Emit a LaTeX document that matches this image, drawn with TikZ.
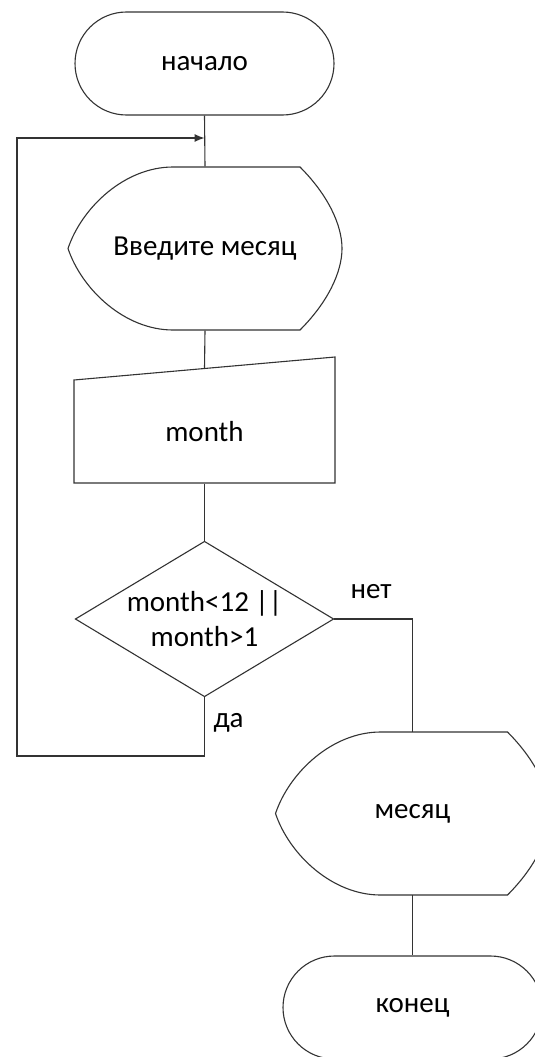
\documentclass[tikz,border=0pt]{standalone}
\usepackage{fontspec}
\setmainfont{Carlito}
\usetikzlibrary{shapes.misc,arrows.meta}
\newcommand{\dispshape}[1]{%
  \draw[lineclr,shift={(#1.center)}] (-32,-81.5) -- (95,-81.5)
    .. controls (123,-53.5) and (137,-23.5) .. (137,0)
    .. controls (137,23.5) and (123,53.5) .. (95,81.5)
    -- (-32,81.5)
    .. controls (-80,81.5) and (-123,41.5) .. (-137,0)
    .. controls (-123,-41.5) and (-80,-81.5) .. (-32,-81.5) -- cycle;}
\begin{document}
\begin{tikzpicture}[x=1pt,y=-1pt,line width=1.1pt,
  every node/.style={font=\fontsize{29}{35}\selectfont},
  lineclr/.style={draw=black!80},
  term/.style={lineclr,rounded rectangle,minimum width=259pt,minimum height=103pt,inner sep=0pt},
  box/.style={inner sep=0pt,align=center},
  lbl/.style={inner sep=0pt,anchor=base west},
  conn/.style={lineclr}]
\useasboundingbox (0,0) rectangle (535,1057);
\clip (0,0) rectangle (535,1057);
\fill[white] (0,0) rectangle (535,1057);
% nodes
\node[term] (start) at (204.5,63.5) {начало};
\node[box,minimum width=274pt,minimum height=163pt] (in1) at (205,248.5) {Введите месяц};
\dispshape{in1}
\node[box,minimum width=261pt,minimum height=103pt] (inp) at (204.5,431.5) {month};
\draw[lineclr] (74,380) -- (335,357) -- (335,483) -- (74,483) -- cycle;
\coordinate (inpTop) at (204.5,368.5);
\node[box,minimum width=257pt,minimum height=154pt] (dec) at (204.5,619) {month<12 ||\\month>1};
\draw[lineclr] (dec.north) -- (dec.east) -- (dec.south) -- (dec.west) -- cycle;
\node[box,minimum width=274pt,minimum height=162pt] (out) at (412.5,813.5) {месяц};
\dispshape{out}
\node[term] (end) at (412.5,1007.5) {конец};
\node[lbl] (no) at (350,598) {нет};
\node[lbl] (yes) at (213,727) {да};
% loop coordinates
\coordinate (loopB) at (204.5,756);
\coordinate (loopL) at (17,756);
\coordinate (loopT) at (17,138);
\coordinate (merge) at (204.5,138);
% connectors
\draw[conn] (start.south) -- (in1.north);
\draw[conn] (in1.south) -- (inpTop);
\draw[conn] (inp.south) -- (dec.north);
\draw[conn] (dec.east) -| (out.north);
\draw[conn] (out.south) -- (end.north);
\draw[conn,-{Latex[length=10pt,width=8pt]}] (dec.south) -- (loopB) -- (loopL) -- (loopT) -- (merge);
\end{tikzpicture}
\end{document}
